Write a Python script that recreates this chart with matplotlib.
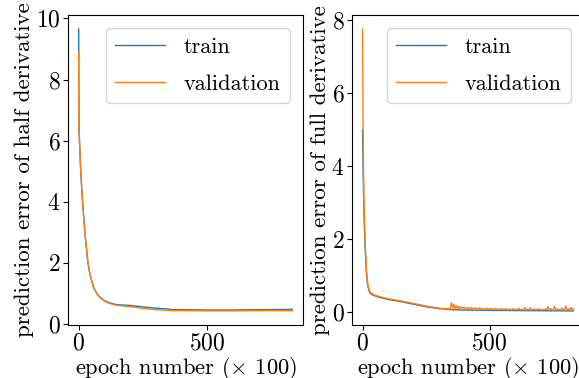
import numpy as np
import matplotlib
matplotlib.use("Agg")
import matplotlib.pyplot as plt

plt.rcParams['font.family'] = 'serif'
plt.rcParams['font.serif'] = ['cmr10']
plt.rcParams['mathtext.fontset'] = 'cm'
plt.rcParams['axes.formatter.use_mathtext'] = True
plt.rcParams['font.size'] = 16

# half derivative (left)
half_train_x = [0, 1, 3, 8, 15, 24, 36, 44, 58, 72, 85, 100, 115, 130, 150, 200, 250, 300, 350, 360, 400, 500, 600, 700, 830]
half_train_y = [9.65, 6.5, 6.0, 5.0, 4.0, 3.0, 2.0, 1.62, 1.2, 0.98, 0.86, 0.77, 0.71, 0.67, 0.63, 0.61, 0.56, 0.52, 0.49, 0.47, 0.47, 0.46, 0.46, 0.47, 0.48]
half_val_x = [0, 1, 3, 8, 15, 24, 36, 44, 58, 72, 85, 100, 115, 130, 150, 200, 250, 300, 350, 360, 400, 500, 600, 700, 830]
half_val_y = [8.9, 6.4, 6.0, 5.0, 4.0, 3.0, 2.0, 1.62, 1.2, 0.98, 0.85, 0.76, 0.69, 0.65, 0.61, 0.57, 0.51, 0.47, 0.45, 0.44, 0.44, 0.43, 0.43, 0.44, 0.44]

# full derivative (right)
full_train_x = [0, 3, 6, 10, 15, 20, 25, 30, 40, 60, 100, 150, 200, 250, 300, 350, 400, 500, 600, 700, 830]
full_train_y = [5.0, 3.6, 2.6, 1.8, 1.1, 0.75, 0.6, 0.52, 0.47, 0.42, 0.35, 0.29, 0.22, 0.15, 0.10, 0.07, 0.06, 0.05, 0.045, 0.04, 0.035]
full_val_x = [0, 2, 5, 10, 15, 20, 25, 30, 40, 60, 100, 150, 200, 250, 300, 345]
full_val_y = [7.75, 5.2, 3.2, 2.0, 1.2, 0.8, 0.63, 0.55, 0.49, 0.44, 0.37, 0.31, 0.24, 0.17, 0.11, 0.085]
# noisy tail of validation, every 5 epochs from 350 to 830
full_val_tail = [0.26, 0.12, 0.22, 0.09, 0.18, 0.10, 0.16, 0.08, 0.15, 0.11, 0.14,
                 0.08, 0.13, 0.09, 0.12, 0.07, 0.13, 0.08, 0.11, 0.12, 0.07, 0.10, 0.12, 0.08, 0.11, 0.07, 0.10, 0.09, 0.11, 0.07, 0.10,
                 0.08, 0.10, 0.07, 0.09, 0.11, 0.06, 0.09, 0.08, 0.10, 0.06, 0.09, 0.07, 0.10, 0.06, 0.08, 0.09, 0.06, 0.08, 0.10, 0.06,
                 0.08, 0.07, 0.11, 0.06, 0.08, 0.06, 0.09, 0.13, 0.06, 0.08, 0.07, 0.12, 0.06, 0.07, 0.09, 0.06, 0.08, 0.06, 0.10, 0.07,
                 0.06, 0.08, 0.06, 0.09, 0.07, 0.15, 0.06, 0.10, 0.07, 0.06, 0.16, 0.07, 0.09, 0.06, 0.08, 0.06, 0.11, 0.07, 0.06, 0.17,
                 0.07, 0.09, 0.06, 0.13, 0.07, 0.10]
tail_x = list(range(350, 831, 5))

fig = plt.figure(figsize=(5.79, 3.78), dpi=100)
ax1 = fig.add_axes([68/579, 1-325/378, 235/579, 310/378])
ax2 = fig.add_axes([352/579, 1-325/378, 232/579, 310/378])

ax1.plot(half_train_x, half_train_y, lw=1, label='train')
ax1.plot(half_val_x, half_val_y, lw=1, label='validation')
ax1.set_ylabel('prediction error of half derivative', fontsize=16.6, labelpad=1)

ax2.plot(full_train_x, full_train_y, lw=1, label='train')
ax2.plot(full_val_x + tail_x, full_val_y + full_val_tail, lw=1, label='validation')
ax2.set_ylabel('prediction error of full derivative', fontsize=16.6, labelpad=1)

for ax in (ax1, ax2):
    ax.set_xticks([0, 500])
    ax.tick_params(labelsize=17, pad=2)
    ax.set_xlabel(r'epoch number ($\times$ 100)', fontsize=16.2, labelpad=0)
    ax.legend(loc='upper right', handlelength=2.25, handletextpad=0.85,
              labelspacing=0.8, borderaxespad=0.6)

fig.savefig('out.png', dpi=100)
